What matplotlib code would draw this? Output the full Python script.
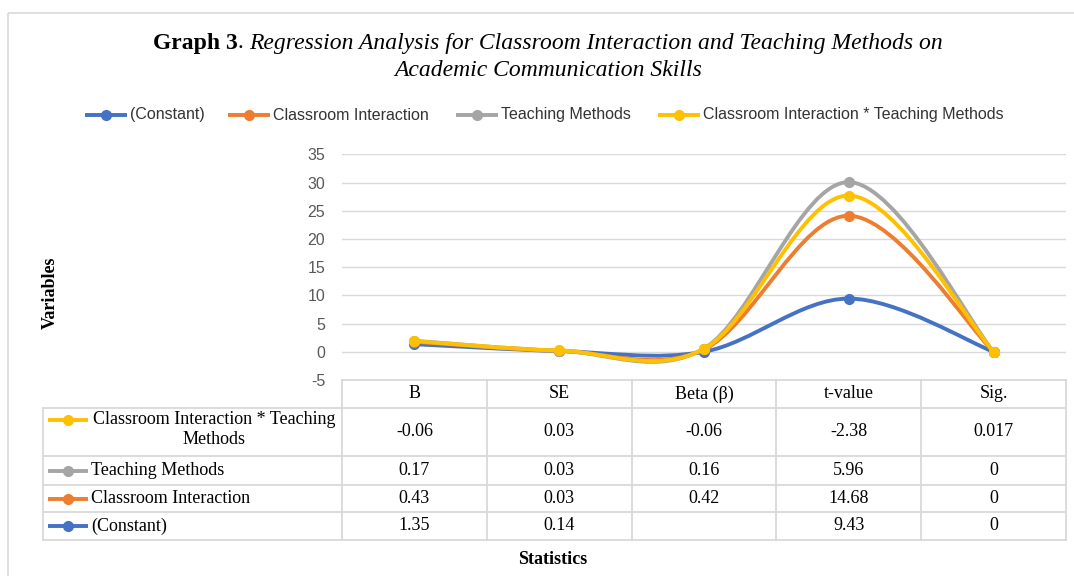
import numpy as np
import matplotlib
matplotlib.use("Agg")
import matplotlib.pyplot as plt
from matplotlib.path import Path
from matplotlib.patches import PathPatch, Rectangle

# =========================
# Data (regression table)
# =========================
statistics = ["B", "SE", "Beta (\u03b2)", "t-value", "Sig."]
series_names = ["(Constant)", "Classroom Interaction", "Teaching Methods",
                "Classroom Interaction * Teaching Methods"]
constant = [1.35, 0.14, np.nan, 9.43, 0]
classroom = [0.43, 0.03, 0.42, 14.68, 0]
teaching = [0.17, 0.03, 0.16, 5.96, 0]
interaction = [-0.06, 0.03, -0.06, -2.38, 0.017]
colors = ["#4472C4", "#ED7D31", "#A5A5A5", "#FFC000"]

series = [constant, classroom, teaching, interaction]

plt.rcParams["axes.unicode_minus"] = False
SERIF = "Liberation Serif"
SANS = "Liberation Sans"
W, H = 1074, 576

fig = plt.figure(figsize=(W / 100, H / 100), dpi=100)

# main plot area (pixel bounds of the reference)
px_left, px_right, px_top, px_bottom = 342, 1066, 154.3, 380
ax = fig.add_axes([px_left / W, 1 - px_bottom / H,
                   (px_right - px_left) / W, (px_bottom - px_top) / H])
ax.set_xlim(-0.5, len(statistics) - 0.5)
ax.set_ylim(-5, 35)
ax.set_yticks(range(-5, 40, 5))
ax.set_xticks([])
for s in ax.spines.values():
    s.set_visible(False)
ax.tick_params(axis="y", length=0, pad=12, labelsize=11.5, labelcolor="#595959")
for lab in ax.get_yticklabels():
    lab.set_fontfamily(SANS)
for yv in range(0, 40, 5):
    ax.axhline(yv, color="#D9D9D9", lw=1.0, zorder=0)


def smooth_path(xs, ys):
    # Excel-like smoothed line (Catmull-Rom style cubic Bezier)
    pts = np.column_stack([xs, ys]).astype(float)
    n = len(pts)
    verts = [pts[0]]
    codes = [Path.MOVETO]
    for i in range(n - 1):
        p0 = pts[i - 1] if i > 0 else pts[i]
        p1, p2 = pts[i], pts[i + 1]
        p3 = pts[i + 2] if i + 2 < n else pts[i + 1]
        verts += [p1 + (p2 - p0) / 6, p2 - (p3 - p1) / 6, p2]
        codes += [Path.CURVE4] * 3
    return Path(verts, codes)


# stacked line chart (blank cells count as zero)
x = np.arange(len(statistics))
stacked = np.cumsum(np.nan_to_num(np.array(series, dtype=float)), axis=0)
for i, (name, c) in enumerate(zip(series_names, colors)):
    ax.add_patch(PathPatch(smooth_path(x, stacked[i]), facecolor="none",
                           edgecolor=c, lw=2.8, capstyle="round", zorder=3 + i))
    ax.plot(x, stacked[i], "o", color=c, ms=7, zorder=3 + i)

# =========================
# Overlay in pixel coords for title, legend, data table
# =========================
ov = fig.add_axes([0, 0, 1, 1], zorder=10)
ov.set_xlim(0, W)
ov.set_ylim(H, 0)
ov.axis("off")
ov.patch.set_visible(False)

ov.add_patch(Rectangle((8, 13), W, H, facecolor="none", edgecolor="#D9D9D9", lw=1.2))

# title line 1 with mixed styles
renderer = fig.canvas.get_renderer()
pieces = [("Graph 3", "bold", "normal"), (". ", "normal", "normal"),
          ("Regression Analysis for Classroom Interaction and Teaching Methods on",
           "normal", "italic")]
texts = []
for txt, wt, st in pieces:
    texts.append(ov.text(0, 43, txt, fontsize=17, fontweight=wt, fontstyle=st,
                         family=SERIF, va="center", ha="left"))
widths = [t.get_window_extent(renderer).width for t in texts]
xpos = 548 - sum(widths) / 2
for t, w in zip(texts, widths):
    t.set_x(xpos)
    xpos += w
ov.text(548, 71, "Academic Communication Skills", fontsize=17, fontstyle="italic",
        family=SERIF, va="center", ha="center")

# top legend
leg_x = [85, 228, 456, 658]
for name, c, lx in zip(series_names, colors, leg_x):
    ov.plot([lx, lx + 42], [115, 115], color=c, lw=2.8, solid_capstyle="butt")
    ov.plot([lx + 21], [115], "o", color=c, ms=7)
    ov.text(lx + 45, 115, name, fontsize=11.5, family=SANS, color="#333333",
            va="center", ha="left")

# axis titles
ov.text(50, 293, "Variables", fontsize=13, fontweight="bold", family=SERIF,
        rotation=90, va="center", ha="center")
ov.text(553, 559, "Statistics", fontsize=13, fontweight="bold", family=SERIF,
        va="center", ha="center")

# data table
grid_c = "#D9D9D9"
col_edges = np.linspace(px_left, px_right, len(statistics) + 1)
row_edges = [408, 456, 485, 512, 540]
tab_left = 43
ov.plot([px_left, px_right], [px_bottom, px_bottom], color=grid_c, lw=1.3)
for yv in row_edges:
    ov.plot([tab_left, px_right], [yv, yv], color=grid_c, lw=1.3)
for xv in col_edges:
    ov.plot([xv, xv], [px_bottom, row_edges[-1]], color=grid_c, lw=1.3)
ov.plot([tab_left, tab_left], [row_edges[0], row_edges[-1]], color=grid_c, lw=1.3)

FS_TAB = 13
centers = (col_edges[:-1] + col_edges[1:]) / 2
for cx, lab in zip(centers, statistics):
    ov.text(cx, (px_bottom + row_edges[0]) / 2, lab, fontsize=FS_TAB, family=SERIF,
            va="center", ha="center")

# rows listed top to bottom: reversed series order
for r, si in enumerate(range(len(series) - 1, -1, -1)):
    y0, y1 = row_edges[r], row_edges[r + 1]
    ym = (y0 + y1) / 2
    name, c = series_names[si], colors[si]
    if si == 3:
        key_y = y0 + 12
        ov.text(214, key_y, "Classroom Interaction * Teaching", fontsize=FS_TAB,
                family=SERIF, va="center", ha="center")
        ov.text(214, key_y + 20, "Methods", fontsize=FS_TAB, family=SERIF,
                va="center", ha="center")
    else:
        key_y = ym
        ov.text(91, key_y, name, fontsize=FS_TAB, family=SERIF, va="center", ha="left")
    ov.plot([48, 88], [key_y, key_y], color=c, lw=2.8, solid_capstyle="butt")
    ov.plot([68], [key_y], "o", color=c, ms=7)
    for cx, v in zip(centers, series[si]):
        s = "" if np.isnan(v) else format(v, "g")
        ov.text(cx, ym, s, fontsize=FS_TAB, family=SERIF, va="center", ha="center")

fig.savefig("out.png", dpi=100)
